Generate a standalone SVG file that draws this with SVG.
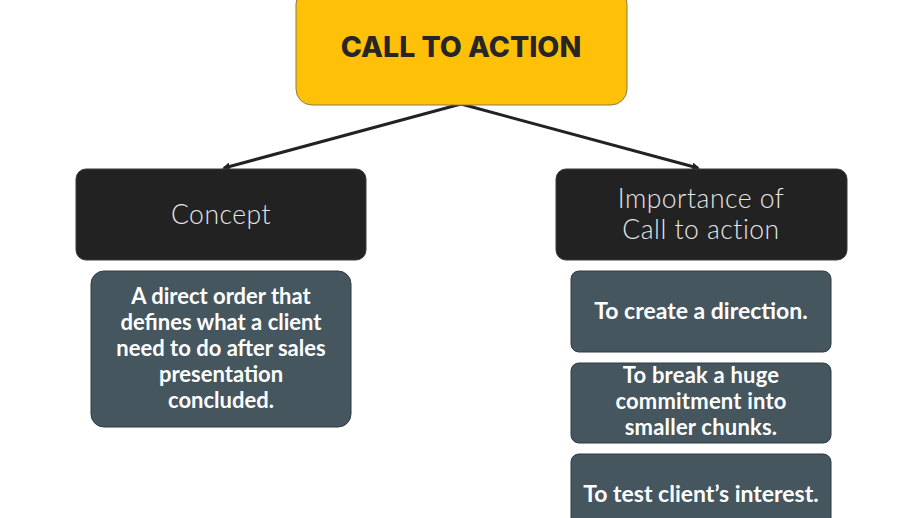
<svg xmlns="http://www.w3.org/2000/svg" width="921" height="518" viewBox="0 0 921 518">
<style>
.head{fill:#222222;stroke:#3a3a3a;stroke-width:1}
.leaf{fill:#45565f;stroke:#2f3b42;stroke-width:1}
.ht{font-family:Lato,"Open Sans",sans-serif;font-weight:300;font-size:26.5px;fill:#e6e6e6;text-anchor:middle;letter-spacing:0.5px}
.lt{font-family:Lato,"Open Sans",sans-serif;font-weight:700;font-size:22px;fill:#ffffff;text-anchor:middle}
.rt{font-size:23px}
.ct{font-size:22px;letter-spacing:0.2px}
.conn{stroke:#222222;stroke-width:3;fill:none;marker-end:url(#arr)}
</style>
<defs>
<marker id="arr" markerWidth="8" markerHeight="8" refX="6" refY="4" orient="auto" markerUnits="userSpaceOnUse">
<path d="M0,0 L8,4 L0,8 Z" fill="#222222"/>
</marker>
</defs>
<rect width="921" height="518" fill="#ffffff"/>
<g id="connectors">
<line class="conn" x1="461" y1="104" x2="224" y2="168"/>
<line class="conn" x1="461" y1="104" x2="698" y2="168"/>
</g>
<g id="root">
<rect x="296" y="-12" width="331" height="117" rx="16" fill="#FFC107" stroke="#8a7a4a" stroke-width="1"/>
<text x="461" y="57" font-family="Inter,'Open Sans',sans-serif" font-weight="800" font-size="28.5" fill="#262626" text-anchor="middle">CALL TO ACTION</text>
</g>
<g id="concept">
<rect class="head" x="76" y="169" width="290" height="91" rx="10"/>
<text class="ht" x="221" y="224">Concept</text>
</g>
<g id="importance">
<rect class="head" x="556" y="169" width="291" height="91" rx="10"/>
<text class="ht" x="701" y="208">Importance of</text>
<text class="ht" x="701" y="239">Call to action</text>
</g>
<g id="concept-desc">
<rect class="leaf" x="91" y="271" width="260" height="156" rx="13"/>
<text class="lt" x="221" y="304">A direct order that</text>
<text class="lt" x="221" y="330">defines what a client</text>
<text class="lt" x="221" y="356">need to do after sales</text>
<text class="lt" x="221" y="382">presentation</text>
<text class="lt" x="221" y="408">concluded.</text>
</g>
<g id="direction">
<rect class="leaf" x="571" y="271" width="260" height="81" rx="8"/>
<text class="lt rt" x="701" y="319">To create a direction.</text>
</g>
<g id="chunks">
<rect class="leaf" x="571" y="363" width="260" height="80" rx="8"/>
<text class="lt ct" x="701" y="383">To break a huge</text>
<text class="lt ct" x="701" y="409">commitment into</text>
<text class="lt ct" x="701" y="435">smaller chunks.</text>
</g>
<g id="interest">
<rect class="leaf" x="571" y="454" width="260" height="80" rx="8"/>
<text class="lt rt" x="701" y="502">To test client’s interest.</text>
</g>
</svg>
